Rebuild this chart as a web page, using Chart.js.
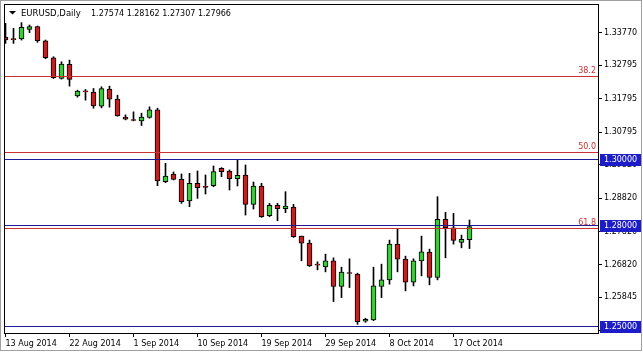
<!DOCTYPE html>
<html>
<head>
<meta charset="utf-8">
<title>EURUSD Daily</title>
<script src="https://cdn.jsdelivr.net/npm/chart.js@4.4.1/dist/chart.umd.min.js"></script>
<style>
  html, body { margin: 0; padding: 0; background: #fff; }
  #chart { display: block; }
</style>
</head>
<body>
<canvas id="chart" width="643" height="353"></canvas>
<script>
// daily candles, 13 Aug 2014 .. 20 Oct 2014 (broker feed has Sunday bars)
var opens  = [1.3363, 1.3359, 1.3358, 1.3387, 1.3395, 1.3353, 1.3302, 1.3240, 1.3282, 1.3188,
              1.3203, 1.3199, 1.3157, 1.3208, 1.3178, 1.3124, 1.3117, 1.3113, 1.3123, 1.3146,
              1.2931, 1.2954, 1.2938, 1.2873, 1.2926, 1.2917, 1.2919, 1.2971, 1.2963, 1.2940,
              1.2951, 1.2863, 1.2918, 1.2829, 1.2860, 1.2850, 1.2855, 1.2768, 1.2747, 1.2684,
              1.2676, 1.2694, 1.2617, 1.2659, 1.2654, 1.2513, 1.2517, 1.2617, 1.2637, 1.2744,
              1.2699, 1.2630, 1.2694, 1.2720, 1.2644, 1.2818, 1.2793, 1.2749, 1.27574];
var highs  = [1.3405, 1.3390, 1.3407, 1.3400, 1.3397, 1.3355, 1.3305, 1.3290, 1.3295, 1.3205,
              1.3207, 1.3210, 1.3215, 1.3217, 1.3190, 1.3131, 1.3140, 1.3136, 1.3155, 1.3151,
              1.2986, 1.2960, 1.2954, 1.2956, 1.2963, 1.2951, 1.2978, 1.2973, 1.2966, 1.2996,
              1.2981, 1.2930, 1.2926, 1.2866, 1.2866, 1.2901, 1.2863, 1.2768, 1.2756, 1.2691,
              1.2714, 1.2703, 1.2675, 1.2700, 1.2657, 1.2522, 1.2675, 1.2684, 1.2756, 1.2790,
              1.2708, 1.2700, 1.2768, 1.2729, 1.2886, 1.2839, 1.2836, 1.2771, 1.28162];
var lows   = [1.3345, 1.3345, 1.3355, 1.3377, 1.3348, 1.3299, 1.3240, 1.3238, 1.3217, 1.3184,
              1.3175, 1.3151, 1.3152, 1.3154, 1.3127, 1.3116, 1.3113, 1.3099, 1.3121, 1.2919,
              1.2928, 1.2936, 1.2866, 1.2856, 1.2881, 1.2894, 1.2916, 1.2946, 1.2906, 1.2918,
              1.2831, 1.2849, 1.2824, 1.2826, 1.2814, 1.2838, 1.2764, 1.2694, 1.2677, 1.2667,
              1.2661, 1.2572, 1.2584, 1.2614, 1.2504, 1.2510, 1.2515, 1.2584, 1.2624, 1.2661,
              1.2604, 1.2619, 1.2649, 1.2622, 1.2637, 1.2703, 1.2744, 1.2733, 1.27307];
var closes = [1.3355, 1.3356, 1.3393, 1.3395, 1.3353, 1.3302, 1.3242, 1.3283, 1.3237, 1.3202,
              1.3200, 1.3158, 1.3210, 1.3178, 1.3128, 1.3118, 1.3114, 1.3124, 1.3146, 1.2933,
              1.2948, 1.2938, 1.2871, 1.2926, 1.2913, 1.2914, 1.2961, 1.2961, 1.2940, 1.2950,
              1.2863, 1.2918, 1.2826, 1.2860, 1.2850, 1.2858, 1.2766, 1.2747, 1.2679, 1.2681,
              1.2694, 1.2617, 1.2660, 1.2656, 1.2512, 1.2519, 1.2619, 1.2637, 1.2744, 1.2699,
              1.2630, 1.2694, 1.2721, 1.2644, 1.2818, 1.2793, 1.2755, 1.2758, 1.27966];

var xTickIndex  = [0, 8, 16, 24, 32, 40, 48, 56];
var xTickLabels = ['13 Aug 2014', '22 Aug 2014', '1 Sep 2014', '10 Sep 2014',
                   '19 Sep 2014', '29 Sep 2014', '8 Oct 2014', '17 Oct 2014'];
var yTicks = [1.33770, 1.32795, 1.31795, 1.30795, 1.29820, 1.28820, 1.27820, 1.26820, 1.25845, 1.24845];

var fibLevels = [1.3247, 1.3019, 1.2791];
var fibLabels = ['38.2', '50.0', '61.8'];
var priceLevels = [1.30, 1.28, 1.25];

var upColor = '#36CD36',
    downColor = '#C81E1E',
    fibColor = '#C83232',
    levelColor = '#1C1C96',
    boxColor = '#1C1CC8';
var fontFamily = 'DejaVu Sans';

var bodyData = [], wickData = [], bodyColors = [];
for (var i = 0; i < opens.length; i++) {
  bodyData.push({ x: i, y: [opens[i], closes[i]] });
  wickData.push({ x: i, y: [lows[i], highs[i]] });
  bodyColors.push(closes[i] >= opens[i] ? upColor : downColor);
}

var chartDecor = {
  id: 'chartDecor',
  beforeDraw: function (chart) {
    var ctx = chart.ctx, w = chart.width, h = chart.height;
    ctx.save();
    ctx.fillStyle = '#ffffff';
    ctx.fillRect(0, 0, w, h);
    ctx.fillStyle = '#a0a0a0';
    ctx.fillRect(0, 0, w - 1, 1);
    ctx.fillRect(0, 0, 1, h - 2);
    ctx.fillRect(w - 2, 0, 1, h - 2);
    ctx.fillRect(0, h - 3, w - 1, 1);
    ctx.restore();
  },
  afterDatasetsDraw: function (chart) {
    var ctx = chart.ctx, area = chart.chartArea, yScale = chart.scales.y;
    ctx.save();
    ctx.beginPath();
    ctx.rect(area.left, area.top, area.right - area.left, area.bottom - area.top);
    ctx.clip();
    ctx.lineWidth = 1;
    function hline(v, color) {
      var y = Math.round(yScale.getPixelForValue(v)) + 0.5;
      ctx.strokeStyle = color;
      ctx.beginPath();
      ctx.moveTo(area.left, y);
      ctx.lineTo(area.right, y);
      ctx.stroke();
    }
    fibLevels.forEach(function (v) { hline(v, fibColor); });
    priceLevels.forEach(function (v) { hline(v, levelColor); });
    ctx.restore();
  },
  afterDraw: function (chart) {
    var ctx = chart.ctx, area = chart.chartArea, yScale = chart.scales.y;
    ctx.save();
    ctx.strokeStyle = '#000';
    ctx.lineWidth = 1;
    ctx.strokeRect(Math.round(area.left) + 0.5, Math.round(area.top) + 0.5,
                   Math.round(area.right - area.left), Math.round(area.bottom - area.top));

    ctx.font = '8px "' + fontFamily + '"';

    // fibo level captions
    ctx.fillStyle = fibColor;
    ctx.textAlign = 'right';
    ctx.textBaseline = 'alphabetic';
    fibLevels.forEach(function (v, k) {
      var y = Math.round(yScale.getPixelForValue(v));
      ctx.fillText(fibLabels[k], area.right - 2, y - 3);
    });

    // price boxes on the axis
    ctx.textAlign = 'left';
    ctx.textBaseline = 'middle';
    priceLevels.forEach(function (v) {
      var y = Math.round(yScale.getPixelForValue(v));
      ctx.fillStyle = boxColor;
      ctx.fillRect(area.right + 2, y - 5, 41, 12);
      ctx.fillStyle = '#ffffff';
      ctx.fillText(v.toFixed(5), area.right + 6, y + 1);
    });

    // header
    var last = opens.length - 1;
    ctx.fillStyle = '#000';
    ctx.beginPath();
    ctx.moveTo(9, 11);
    ctx.lineTo(16, 11);
    ctx.lineTo(12.5, 14.5);
    ctx.closePath();
    ctx.fill();
    ctx.textBaseline = 'alphabetic';
    ctx.font = '8.5px "' + fontFamily + '"';
    ctx.fillText('EURUSD,Daily', 21, 16);
    ctx.font = '8px "' + fontFamily + '"';
    ctx.fillText([opens[last], highs[last], lows[last], closes[last]].map(function (v) {
      return v.toFixed(5);
    }).join(' '), 91, 16);
    ctx.restore();
  }
};

var chart = new Chart(document.getElementById('chart'), {
  type: 'bar',
  data: {
    datasets: [
      {
        data: bodyData,
        backgroundColor: bodyColors,
        borderColor: '#000000',
        borderWidth: 1,
        borderSkipped: false,
        barThickness: 5,
        grouped: false,
        order: 0
      },
      {
        data: wickData,
        backgroundColor: '#000000',
        borderWidth: 0,
        barThickness: 1,
        grouped: false,
        order: 1
      }
    ]
  },
  options: {
    responsive: false,
    animation: false,
    devicePixelRatio: 1,
    layout: { padding: { left: 4, top: 4, right: 0, bottom: 0 } },
    plugins: { legend: { display: false }, tooltip: { enabled: false } },
    scales: {
      x: {
        type: 'linear',
        min: -0.1875,
        max: 74.0625,
        offset: false,
        grid: { offset: false, drawOnChartArea: false, drawTicks: true, tickLength: 4, color: '#000' },
        border: { display: false },
        afterBuildTicks: function (scale) {
          scale.ticks = xTickIndex.map(function (v) { return { value: v }; });
        },
        afterFit: function (scale) {
          scale.height = 20;
          scale.paddingLeft = 0;
          scale.paddingRight = 0;
        },
        ticks: {
          autoSkip: false,
          maxRotation: 0,
          align: 'start',
          padding: 2,
          color: '#000',
          font: { family: fontFamily, size: 8 },
          callback: function (value) {
            var k = xTickIndex.indexOf(value);
            return k >= 0 ? xTickLabels[k] : '';
          }
        }
      },
      y: {
        type: 'linear',
        position: 'right',
        min: 1.24779,
        max: 1.34629,
        beginAtZero: false,
        grid: { drawOnChartArea: false, drawTicks: true, tickLength: 4, color: '#000' },
        border: { display: false },
        afterBuildTicks: function (scale) {
          scale.ticks = yTicks.map(function (v) { return { value: v }; });
        },
        afterFit: function (scale) {
          scale.width = 45;
          scale.paddingTop = 0;
          scale.paddingBottom = 0;
        },
        ticks: {
          autoSkip: false,
          padding: 2,
          color: '#000',
          font: { family: fontFamily, size: 8 },
          callback: function (value) { return value.toFixed(5); }
        }
      }
    }
  },
  plugins: [chartDecor]
});
</script>
</body>
</html>
